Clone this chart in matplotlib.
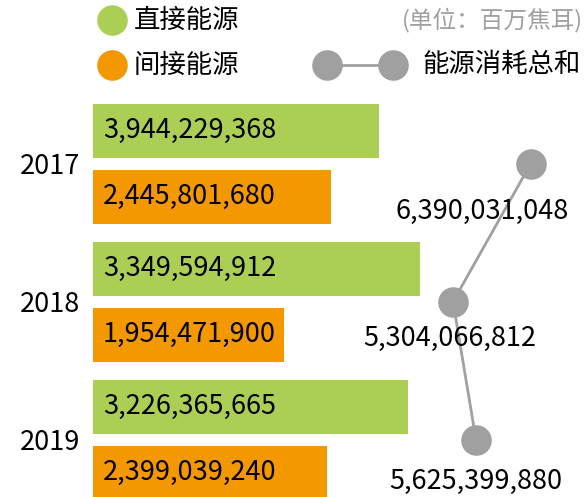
import matplotlib.pyplot as plt
from matplotlib.lines import Line2D
import numpy as np

plt.rcParams['font.family'] = ['Noto Sans CJK SC', 'DejaVu Sans']

years = ['2017', '2018', '2019']
direct = [3944229368, 3349594912, 3226365665]      # 直接能源
indirect = [2445801680, 1954471900, 2399039240]    # 间接能源
total = [6390031048, 5304066812, 5625399880]       # 能源消耗总和
# 原图中 2017 年绿条画得比数值短，这里按图上的长度画
direct_drawn = [2933000000, 3349594912, 3226365665]

green = '#abcf55'
orange = '#f39800'
gray = '#a0a0a0'

W, H = 587, 497
fig = plt.figure(figsize=(W / 100, H / 100), dpi=100)

def px(x, y):
    return x / W, 1 - y / H

ax = fig.add_axes([93 / W, 0, 494 / W, 1])
y = np.arange(len(years))
ax.barh(y - 0.239, direct_drawn, height=0.388, color=green)
ax.barh(y + 0.239, indirect, height=0.388, color=orange)
ax.set_xlim(0, 5067e6)
ax.set_ylim(2.415, -1.187)
ax.set_yticks(y)
ax.set_yticklabels(years, fontsize=19.5)
ax.tick_params(axis='y', length=0, pad=9)
ax.set_xticks([])
for s in ax.spines.values():
    s.set_visible(False)

for i in range(len(years)):
    ax.annotate(f'{direct[i]:,}', (0, y[i] - 0.239), xytext=(10, 0),
                textcoords='offset pixels', va='center', ha='left', fontsize=19.5)
    ax.annotate(f'{indirect[i]:,}', (0, y[i] + 0.239), xytext=(10, 0),
                textcoords='offset pixels', va='center', ha='left', fontsize=19.5)

ax2 = ax.twiny()
ax2.set_xlim(269e6, 7178e6)
ax2.plot(total, y, color=gray, lw=2, marker='o', ms=21, zorder=3)
ax2.set_xticks([])
for s in ax2.spines.values():
    s.set_visible(False)

offsets = [(-49, -48), (-3, -37), (0, -42)]
for i in range(len(years)):
    ax2.annotate(f'{total[i]:,}', (total[i], y[i]), xytext=offsets[i],
                 textcoords='offset pixels', va='center', ha='center', fontsize=19.5)

# 图例
for c, lab, yy in [(green, '直接能源', 20), (orange, '间接能源', 65)]:
    fig.add_artist(Line2D([px(112, 0)[0]], [px(0, yy)[1]], marker='o', ms=21,
                          color=c, transform=fig.transFigure))
    fig.text(*px(134, yy), lab, va='center', ha='left', fontsize=19)

fig.add_artist(Line2D([px(327, 0)[0], px(393, 0)[0]], [px(0, 65)[1]] * 2,
                      marker='o', ms=21, lw=2, color=gray, transform=fig.transFigure))
fig.text(*px(422, 65), '能源消耗总和', va='center', ha='left', fontsize=19)
fig.text(*px(583, 20), '(单位：百万焦耳)', va='center', ha='right', fontsize=17, color=gray)

fig.savefig('out.png', dpi=100)
